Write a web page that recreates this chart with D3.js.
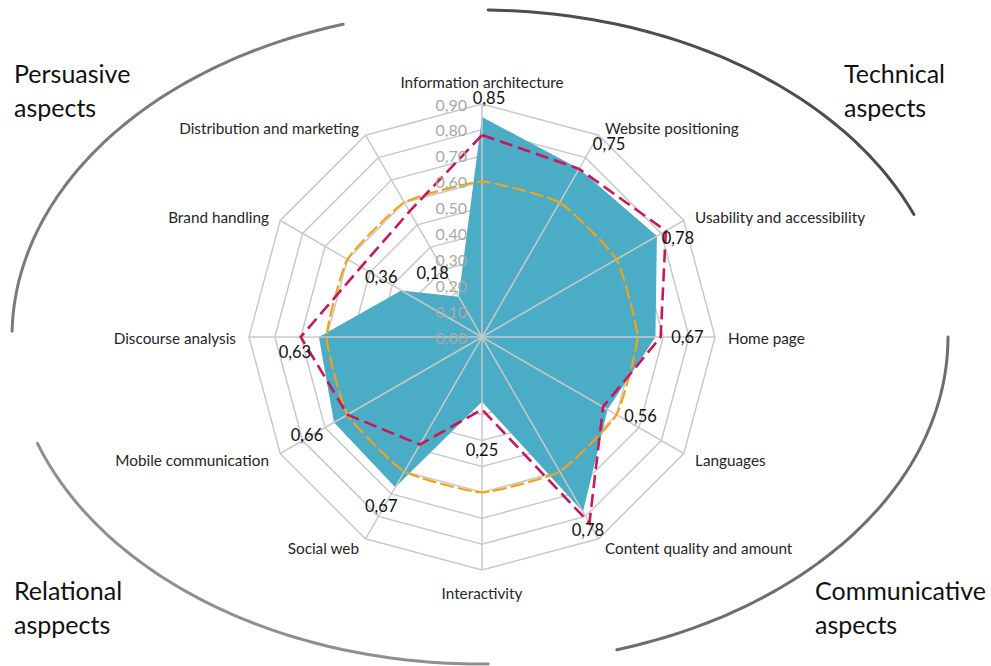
<!DOCTYPE html>
<html>
<head>
<meta charset="utf-8">
<script src="https://cdn.jsdelivr.net/npm/d3@7"></script>
<style>
  html, body { margin: 0; padding: 0; background: #fff; }
  svg { display: block; font-family: Lato, "Open Sans", sans-serif; }
</style>
</head>
<body>
<svg id="chart" width="991" height="666"></svg>
<script>
// Website evaluation radar: twelve criteria, three series
const categories = [
  "Information architecture", "Website positioning", "Usability and accessibility",
  "Home page", "Languages", "Content quality and amount", "Interactivity",
  "Social web", "Mobile communication", "Discourse analysis", "Brand handling",
  "Distribution and marketing"
];
const scoreValues     = [0.85, 0.75, 0.78, 0.67, 0.56, 0.78, 0.25, 0.67, 0.66, 0.63, 0.36, 0.18];
const benchmarkValues = [0.78, 0.75, 0.82, 0.69, 0.54, 0.83, 0.28, 0.48, 0.60, 0.70, 0.54, 0.56];
const averageValues   = [0.60, 0.60, 0.60, 0.60, 0.60, 0.60, 0.60, 0.60, 0.60, 0.60, 0.60, 0.60];
const tickValues = [0, 0.1, 0.2, 0.3, 0.4, 0.5, 0.6, 0.7, 0.8, 0.9];
const tickLabels = ["0,00", "0,10", "0,20", "0,30", "0,40", "0,50", "0,60", "0,70", "0,80", "0,90"];
const groupTitles = [
  ["Persuasive", "aspects"], ["Technical", "aspects"],
  ["Relational", "asppects"], ["Communicative", "aspects"]
];

// value-label nudges (px) relative to each score vertex
const labelNudge = [[7,-19],[30,-25],[21,2],[32,0],[33,7],[5,18],[0,48],[-14,19],[-27,13],[-24,15],[-20,-13],[-26,-24]];

const svg = d3.select("#chart");
const cx = 482, cy = 337;
const r = d3.scaleLinear().domain([0, 0.9]).range([0, 233]);
const n = categories.length;
const angle = i => i * 2 * Math.PI / n;
const px = (v, i) => cx + r(v) * Math.sin(angle(i));
const py = (v, i) => cy - r(v) * Math.cos(angle(i));

// ---- decorative elliptical brackets around the chart
const ell = { cx: 480, cy: 337, rx: 468, ry: 327 };
const arcLine = d3.line().curve(d3.curveBasis);
function ellArc(t0, t1) {
  const pts = d3.range(t0, t1 + 0.01, 1).map(t => {
    const a = t * Math.PI / 180;
    return [ell.cx + ell.rx * Math.cos(a), ell.cy + ell.ry * Math.sin(a)];
  });
  return arcLine(pts);
}
const brackets = [
  { t0: 181, t1: 253, color: "#7a7a7a" },
  { t0: 271, t1: 338, color: "#4d4d4d" },
  { t0: 89,  t1: 161, color: "#8f8f8f" },
  { t0: 0,   t1: 73,  color: "#6e6e6e" }
];
svg.append("g").selectAll("path").data(brackets).join("path")
  .attr("d", d => ellArc(d.t0, d.t1))
  .attr("fill", "none")
  .attr("stroke", d => d.color)
  .attr("stroke-width", 3)
  .attr("stroke-linecap", "round");

// ---- corner titles
const titlePos = [
  { x: 14, y: 73 }, { x: 844, y: 73 },
  { x: 14, y: 590 }, { x: 815, y: 590 }
];
const titles = svg.append("g").selectAll("text").data(groupTitles).join("text")
  .attr("font-size", 25)
  .attr("fill", "#111");
titles.each(function (d, i) {
  d3.select(this).selectAll("tspan").data(d).join("tspan")
    .attr("x", titlePos[i].x)
    .attr("y", (t, j) => titlePos[i].y + j * 34)
    .attr("dominant-baseline", "central")
    .text(t => t);
});

const g = svg.append("g").attr("transform", `translate(${cx},${cy})`);
const radial = d3.lineRadial()
  .angle((d, i) => angle(i))
  .radius(d => r(d))
  .curve(d3.curveLinearClosed);

// ---- concentric rings
g.append("g").selectAll("path").data(tickValues.filter(v => v > 0)).join("path")
  .attr("d", v => radial(categories.map(() => v)))
  .attr("fill", "none")
  .attr("stroke", "#c9c9c9")
  .attr("stroke-width", 1.5);

// ---- score area
g.append("path")
  .attr("d", radial(scoreValues))
  .attr("fill", "#4bacc6");

// ---- spokes
g.append("g").selectAll("line").data(categories).join("line")
  .attr("x1", 0).attr("y1", 0)
  .attr("x2", (d, i) => r(0.9) * Math.sin(angle(i)))
  .attr("y2", (d, i) => -r(0.9) * Math.cos(angle(i)))
  .attr("stroke", "#c9c9c9")
  .attr("stroke-width", 1.5);

// ---- average line (smoothed, long dashes)
g.append("path")
  .attr("d", d3.lineRadial().angle((d, i) => angle(i)).radius(d => r(d))
    .curve(d3.curveCardinalClosed.tension(0.55))(averageValues))
  .attr("fill", "none")
  .attr("stroke", "#f2a31b")
  .attr("stroke-width", 2.2)
  .attr("stroke-dasharray", "14,4");

// ---- benchmark line (dashed)
g.append("path")
  .attr("d", radial(benchmarkValues))
  .attr("fill", "none")
  .attr("stroke", "#c8175a")
  .attr("stroke-width", 2.6)
  .attr("stroke-dasharray", "13,6");

// ---- radial tick labels
svg.append("g").selectAll("text").data(tickValues).join("text")
  .attr("x", cx - 15)
  .attr("y", v => cy - r(v))
  .attr("text-anchor", "end")
  .attr("dominant-baseline", "central")
  .attr("font-size", 16)
  .attr("fill", "#a9a9a9")
  .text((v, i) => tickLabels[i]);

// ---- category labels
const pad = 13;
svg.append("g").selectAll("text").data(categories).join("text")
  .attr("x", (d, i) => px(0.9, i) + pad * Math.sin(angle(i)))
  .attr("y", (d, i) => {
    const c = Math.cos(angle(i));
    if (Math.abs(Math.sin(angle(i))) < 0.01) return py(0.9, i) - (c > 0 ? 22 : -23);
    return py(0.9, i) - 10 * c + 1;
  })
  .attr("text-anchor", (d, i) => {
    const s = Math.sin(angle(i));
    return Math.abs(s) < 0.01 ? "middle" : (s > 0 ? "start" : "end");
  })
  .attr("dominant-baseline", "central")
  .attr("font-size", 15.3)
  .attr("fill", "#262626")
  .text(d => d);

// ---- value labels for the score series
svg.append("g").selectAll("text").data(scoreValues).join("text")
  .attr("x", (v, i) => px(v, i) + labelNudge[i][0])
  .attr("y", (v, i) => py(v, i) + labelNudge[i][1])
  .attr("text-anchor", "middle")
  .attr("dominant-baseline", "central")
  .attr("font-size", 16.5)
  .attr("fill", "#111")
  .text(v => v.toFixed(2).replace(".", ","));
</script>
</body>
</html>
